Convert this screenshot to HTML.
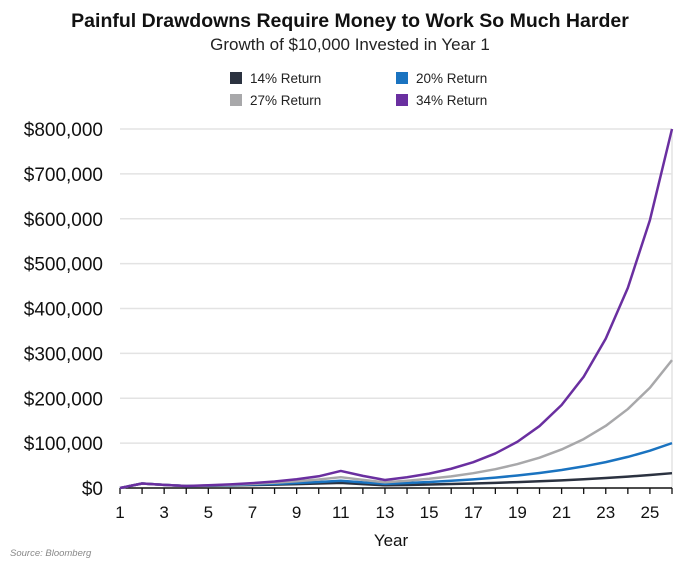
<!DOCTYPE html>
<html><head><meta charset="utf-8"><style>
body{margin:0;background:#fff;font-family:"Liberation Sans",sans-serif}
svg text{font-family:"Liberation Sans",sans-serif}
</style></head><body>
<svg id="chart" width="700" height="565" viewBox="0 0 700 565">
<text x="350" y="27" text-anchor="middle" font-size="19.5" font-weight="bold" fill="#111">Painful Drawdowns Require Money to Work So Much Harder</text>
<text x="350" y="50" text-anchor="middle" font-size="17" fill="#222">Growth of $10,000 Invested in Year 1</text>
<g id="legend"></g>
<g id="grid"></g>
<g id="axes"></g>
<g id="series"></g>
<text x="391" y="546" text-anchor="middle" font-size="17" fill="#111">Year</text>
<text x="10" y="556" font-size="9.5" font-style="italic" fill="#888">Source: Bloomberg</text>
</svg>
<script>
const years=[1,2,3,4,5,6,7,8,9,10,11,12,13,14,15,16,17,18,19,20,21,22,23,24,25,26];
const seriesNames=["14% Return","20% Return","27% Return","34% Return"];
const seriesColors=["#2b3240","#1a73c0","#a8a8aa","#6a2fa0"];
const r14=[0,10000,7000,4500,5100,5800,6700,7600,8700,9900,11300,8500,6000,6800,7800,8900,10100,11500,13100,15000,17100,19500,22200,25300,28900,33000];
const r20=[0,10000,7000,4500,5400,6500,7800,9300,11200,13400,16100,12500,9300,11200,13400,16100,19300,23200,27800,33400,40100,48100,57700,69300,83100,100000];
const r27=[0,10000,7000,4500,5700,7300,9300,11800,15000,19000,24100,18000,12700,16100,20500,26000,33000,41900,53300,67600,85900,109000,138500,175900,223400,285000];
const r34=[0,10000,7000,4500,6000,8100,10800,14500,19500,26100,38000,27000,17800,23900,32000,42900,57500,77000,103000,138000,185000,248000,333000,446000,597000,800000];
const yTicks=[0,100000,200000,300000,400000,500000,600000,700000,800000];
const xTicks=[1,3,5,7,9,11,13,15,17,19,21,23,25];
const NS="http://www.w3.org/2000/svg";
const X0=120,X1=672,Y0=488,Y1=129;
function xs(v){return X0+(v-1)/(25)*(X1-X0);}
function ys(v){return Y0-(v/800000)*(Y0-Y1);}
function mk(t,a,p){const e=document.createElementNS(NS,t);for(const k in a)e.setAttribute(k,a[k]);p.appendChild(e);return e;}
const grid=document.getElementById('grid'),axes=document.getElementById('axes'),ser=document.getElementById('series'),leg=document.getElementById('legend');
yTicks.forEach(v=>{
 if(v>0){const l=mk('line',{x1:X0,x2:X1,y1:ys(v),y2:ys(v),stroke:'#e3e3e3','stroke-width':1.5},grid);
 
 }
 const t=mk('text',{x:103,y:ys(v)+7,'text-anchor':'end','font-size':19,fill:'#111'},axes);
 t.textContent='$'+v.toLocaleString('en-US');
 
 
});
const rb=mk('line',{x1:X1,x2:X1,y1:Y1,y2:Y0,stroke:'#e3e3e3','stroke-width':1.5},grid);


const ax=mk('line',{x1:X0,x2:X1,y1:Y0,y2:Y0,stroke:'#111','stroke-width':1.5},axes);


years.forEach(v=>{const tk=mk('line',{x1:xs(v),x2:xs(v),y1:Y0,y2:Y0+6,stroke:'#111','stroke-width':1.3},axes);
 
 });
xTicks.forEach(v=>{const t=mk('text',{x:xs(v),y:518,'text-anchor':'middle','font-size':17,fill:'#111'},axes);
 t.textContent=v;
 
 });
[r14,r20,r27,r34].forEach((d,i)=>{
 const p=mk('polyline',{points:d.map((v,j)=>xs(years[j])+','+ys(v)).join(' '),fill:'none',stroke:seriesColors[i],'stroke-width':2.5,'stroke-linejoin':'round'},ser);
 
 
});
const lp=[[230,72],[396,72],[230,94],[396,94]];
[0,1,2,3].forEach(i=>{
 const g=mk('g',{},leg);
 
 
 mk('rect',{x:lp[i][0],y:lp[i][1],width:12,height:12,fill:seriesColors[i]},g);
 const t=mk('text',{x:lp[i][0]+20,y:lp[i][1]+11,'font-size':13.5,fill:'#222'},g);
 t.textContent=seriesNames[i];
});
</script>
</body></html>
